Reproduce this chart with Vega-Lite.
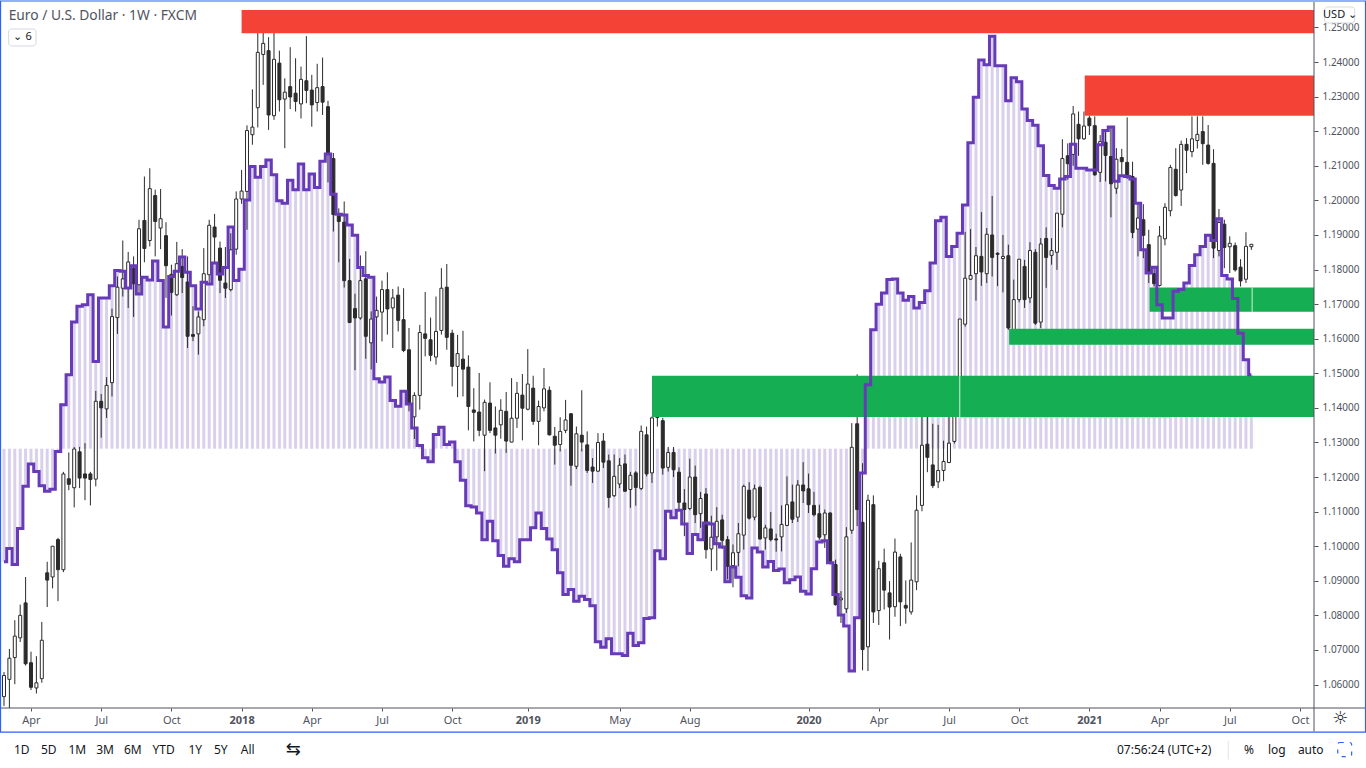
{"$schema":"https://vega.github.io/schema/vega-lite/v6.json","width":1313,"height":706,"autosize":"none","padding":{"left":1,"top":2,"right":52,"bottom":60},"background":"#ffffff","view":{"stroke":null},"config":{"font":"Noto Sans"},
"datasets":{"weeks":[
{"d":"2017-02-27","o":1.0565,"h":1.0636,"l":1.0538,"c":1.0626,"p":1.0955},
{"d":"2017-03-06","o":1.0615,"h":1.0703,"l":1.05,"c":1.0676,"p":1.0993},
{"d":"2017-03-13","o":1.0678,"h":1.0786,"l":1.0601,"c":1.074,"p":1.0947},
{"d":"2017-03-20","o":1.0735,"h":1.0831,"l":1.0723,"c":1.08,"p":1.1051},
{"d":"2017-03-27","o":1.0836,"h":1.0911,"l":1.0655,"c":1.066,"p":1.1173},
{"d":"2017-04-03","o":1.0663,"h":1.0695,"l":1.0584,"c":1.0592,"p":1.1238},
{"d":"2017-04-10","o":1.059,"h":1.0682,"l":1.0574,"c":1.0605,"p":1.1216},
{"d":"2017-04-17","o":1.0617,"h":1.0781,"l":1.0605,"c":1.0728,"p":1.1175},
{"d":"2017-04-24","o":1.0923,"h":1.0955,"l":1.0824,"c":1.0902,"p":1.1159},
{"d":"2017-05-01","o":1.0911,"h":1.1,"l":1.0878,"c":1.1,"p":1.1165},
{"d":"2017-05-08","o":1.1019,"h":1.1024,"l":1.0841,"c":1.0932,"p":1.1274},
{"d":"2017-05-15","o":1.0932,"h":1.1215,"l":1.0925,"c":1.1209,"p":1.1409},
{"d":"2017-05-22","o":1.1195,"h":1.1271,"l":1.1162,"c":1.1179,"p":1.1496},
{"d":"2017-05-29","o":1.1169,"h":1.1287,"l":1.1112,"c":1.1281,"p":1.1648},
{"d":"2017-06-05","o":1.1273,"h":1.1287,"l":1.1168,"c":1.1197,"p":1.1694},
{"d":"2017-06-12","o":1.1209,"h":1.1298,"l":1.1133,"c":1.1197,"p":1.1698},
{"d":"2017-06-19","o":1.1209,"h":1.1215,"l":1.1118,"c":1.1193,"p":1.1727},
{"d":"2017-06-26","o":1.1194,"h":1.1449,"l":1.1173,"c":1.1419,"p":1.1534},
{"d":"2017-07-03","o":1.1419,"h":1.144,"l":1.1314,"c":1.14,"p":1.1718},
{"d":"2017-07-10","o":1.1397,"h":1.1489,"l":1.1371,"c":1.1465,"p":1.1718},
{"d":"2017-07-17","o":1.1473,"h":1.1687,"l":1.1433,"c":1.1664,"p":1.1753},
{"d":"2017-07-24","o":1.1661,"h":1.178,"l":1.1614,"c":1.1749,"p":1.1797},
{"d":"2017-07-31","o":1.1746,"h":1.1884,"l":1.1722,"c":1.1773,"p":1.1795},
{"d":"2017-08-07","o":1.1747,"h":1.1851,"l":1.1689,"c":1.1822,"p":1.1747},
{"d":"2017-08-14","o":1.1804,"h":1.1838,"l":1.1663,"c":1.1759,"p":1.1811},
{"d":"2017-08-21","o":1.1756,"h":1.1944,"l":1.1727,"c":1.1918,"p":1.1729},
{"d":"2017-08-28","o":1.1942,"h":1.2069,"l":1.1821,"c":1.1861,"p":1.1778},
{"d":"2017-09-04","o":1.1884,"h":1.2093,"l":1.1867,"c":1.2034,"p":1.177},
{"d":"2017-09-11","o":1.2014,"h":1.2031,"l":1.1838,"c":1.1939,"p":1.1825},
{"d":"2017-09-18","o":1.192,"h":1.2033,"l":1.1859,"c":1.1947,"p":1.1768},
{"d":"2017-09-25","o":1.1898,"h":1.1937,"l":1.1718,"c":1.1811,"p":1.1634},
{"d":"2017-10-02","o":1.1786,"h":1.1814,"l":1.1667,"c":1.1734,"p":1.178},
{"d":"2017-10-09","o":1.1727,"h":1.188,"l":1.1724,"c":1.1817,"p":1.1795},
{"d":"2017-10-16","o":1.1809,"h":1.1859,"l":1.1732,"c":1.1777,"p":1.1836},
{"d":"2017-10-23","o":1.1764,"h":1.1838,"l":1.1573,"c":1.1607,"p":1.1792},
{"d":"2017-10-30","o":1.1612,"h":1.1694,"l":1.1593,"c":1.1607,"p":1.1753},
{"d":"2017-11-06","o":1.1614,"h":1.1679,"l":1.1554,"c":1.1663,"p":1.1686},
{"d":"2017-11-13","o":1.1655,"h":1.1862,"l":1.1636,"c":1.1788,"p":1.1763},
{"d":"2017-11-20","o":1.1785,"h":1.1944,"l":1.1761,"c":1.1928,"p":1.1758},
{"d":"2017-11-27","o":1.1923,"h":1.1961,"l":1.1819,"c":1.1894,"p":1.1819},
{"d":"2017-12-04","o":1.1862,"h":1.1881,"l":1.1732,"c":1.1769,"p":1.1787},
{"d":"2017-12-11","o":1.1761,"h":1.1865,"l":1.1718,"c":1.1746,"p":1.1806},
{"d":"2017-12-18","o":1.1742,"h":1.1905,"l":1.1737,"c":1.1857,"p":1.1923},
{"d":"2017-12-25","o":1.1859,"h":1.2026,"l":1.1843,"c":1.2004,"p":1.1768},
{"d":"2018-01-01","o":1.2004,"h":1.2088,"l":1.199,"c":1.2027,"p":1.1801},
{"d":"2018-01-08","o":1.2026,"h":1.2217,"l":1.1915,"c":1.2202,"p":1.2001},
{"d":"2018-01-15","o":1.219,"h":1.2321,"l":1.2161,"c":1.2212,"p":1.2098},
{"d":"2018-01-22","o":1.2268,"h":1.25,"l":1.2211,"c":1.2428,"p":1.2067},
{"d":"2018-01-29","o":1.2422,"h":1.25,"l":1.2334,"c":1.2454,"p":1.2098},
{"d":"2018-02-05","o":1.2433,"h":1.2472,"l":1.2204,"c":1.2247,"p":1.2117},
{"d":"2018-02-12","o":1.2245,"h":1.25,"l":1.2233,"c":1.2408,"p":1.2074},
{"d":"2018-02-19","o":1.2397,"h":1.2433,"l":1.2257,"c":1.2291,"p":1.1999},
{"d":"2018-02-26","o":1.2293,"h":1.2353,"l":1.2151,"c":1.2313,"p":1.1992},
{"d":"2018-03-05","o":1.2329,"h":1.2443,"l":1.2264,"c":1.2299,"p":1.2058},
{"d":"2018-03-12","o":1.231,"h":1.2411,"l":1.2257,"c":1.2286,"p":1.2031},
{"d":"2018-03-19","o":1.2279,"h":1.2387,"l":1.2237,"c":1.235,"p":1.2105},
{"d":"2018-03-26","o":1.2346,"h":1.2475,"l":1.2281,"c":1.2318,"p":1.2031},
{"d":"2018-04-02","o":1.2319,"h":1.2363,"l":1.2213,"c":1.2276,"p":1.2076},
{"d":"2018-04-09","o":1.2283,"h":1.2395,"l":1.2257,"c":1.2326,"p":1.2037},
{"d":"2018-04-16","o":1.2329,"h":1.2413,"l":1.2247,"c":1.2284,"p":1.2113},
{"d":"2018-04-23","o":1.2271,"h":1.2288,"l":1.2052,"c":1.2137,"p":1.2134},
{"d":"2018-04-30","o":1.2121,"h":1.2137,"l":1.191,"c":1.1959,"p":1.2018},
{"d":"2018-05-07","o":1.1955,"h":1.1977,"l":1.1821,"c":1.1939,"p":1.196},
{"d":"2018-05-14","o":1.1937,"h":1.1997,"l":1.1748,"c":1.1768,"p":1.1958},
{"d":"2018-05-21","o":1.1768,"h":1.1831,"l":1.1645,"c":1.1647,"p":1.1929},
{"d":"2018-05-28","o":1.1687,"h":1.173,"l":1.1509,"c":1.166,"p":1.1899},
{"d":"2018-06-04","o":1.166,"h":1.1841,"l":1.1655,"c":1.1768,"p":1.1806},
{"d":"2018-06-11","o":1.1773,"h":1.1853,"l":1.1542,"c":1.1607,"p":1.1783},
{"d":"2018-06-18","o":1.1588,"h":1.1679,"l":1.1511,"c":1.1657,"p":1.1778},
{"d":"2018-06-25","o":1.1663,"h":1.1722,"l":1.153,"c":1.1682,"p":1.1484},
{"d":"2018-07-02","o":1.1677,"h":1.1768,"l":1.1592,"c":1.1742,"p":1.1475},
{"d":"2018-07-09","o":1.1742,"h":1.1792,"l":1.1612,"c":1.1686,"p":1.1489},
{"d":"2018-07-16","o":1.1689,"h":1.1744,"l":1.1573,"c":1.1718,"p":1.1421},
{"d":"2018-07-23","o":1.1726,"h":1.1751,"l":1.1621,"c":1.1653,"p":1.1405},
{"d":"2018-07-30","o":1.1655,"h":1.1746,"l":1.1561,"c":1.1566,"p":1.1448},
{"d":"2018-08-06","o":1.1568,"h":1.1631,"l":1.139,"c":1.1414,"p":1.1411},
{"d":"2018-08-13","o":1.1374,"h":1.1445,"l":1.131,"c":1.1436,"p":1.1342},
{"d":"2018-08-20","o":1.1436,"h":1.164,"l":1.1395,"c":1.1618,"p":1.1291},
{"d":"2018-08-27","o":1.1614,"h":1.1735,"l":1.1549,"c":1.1601,"p":1.1256},
{"d":"2018-09-03","o":1.1597,"h":1.1661,"l":1.1535,"c":1.1552,"p":1.1244},
{"d":"2018-09-10","o":1.1547,"h":1.1722,"l":1.1525,"c":1.1621,"p":1.1323},
{"d":"2018-09-17","o":1.1624,"h":1.1804,"l":1.1612,"c":1.1746,"p":1.1344},
{"d":"2018-09-24","o":1.1749,"h":1.1816,"l":1.1568,"c":1.1604,"p":1.1294},
{"d":"2018-10-01","o":1.1616,"h":1.1626,"l":1.1462,"c":1.152,"p":1.1301},
{"d":"2018-10-08","o":1.152,"h":1.1611,"l":1.1431,"c":1.1557,"p":1.1244},
{"d":"2018-10-15","o":1.1541,"h":1.1623,"l":1.1433,"c":1.1512,"p":1.1191},
{"d":"2018-10-22","o":1.1518,"h":1.1552,"l":1.1335,"c":1.1404,"p":1.1117},
{"d":"2018-10-29","o":1.1394,"h":1.1457,"l":1.1303,"c":1.1387,"p":1.1113},
{"d":"2018-11-05","o":1.1388,"h":1.1501,"l":1.1318,"c":1.1335,"p":1.1096},
{"d":"2018-11-12","o":1.1321,"h":1.1424,"l":1.1217,"c":1.1416,"p":1.1019},
{"d":"2018-11-19","o":1.1414,"h":1.1474,"l":1.1327,"c":1.1335,"p":1.1072},
{"d":"2018-11-26","o":1.1342,"h":1.1404,"l":1.1268,"c":1.1321,"p":1.1016},
{"d":"2018-12-03","o":1.1351,"h":1.1425,"l":1.1311,"c":1.1393,"p":1.0973},
{"d":"2018-12-10","o":1.139,"h":1.1446,"l":1.127,"c":1.1304,"p":1.0942},
{"d":"2018-12-17","o":1.1301,"h":1.1486,"l":1.1301,"c":1.137,"p":1.0964},
{"d":"2018-12-24","o":1.137,"h":1.1475,"l":1.1342,"c":1.1442,"p":1.0955},
{"d":"2018-12-31","o":1.1437,"h":1.1498,"l":1.1306,"c":1.1399,"p":1.1019},
{"d":"2019-01-07","o":1.1396,"h":1.157,"l":1.1393,"c":1.1469,"p":1.1019},
{"d":"2019-01-14","o":1.1457,"h":1.1493,"l":1.1351,"c":1.1361,"p":1.1053},
{"d":"2019-01-21","o":1.1361,"h":1.1421,"l":1.1292,"c":1.1404,"p":1.1096},
{"d":"2019-01-28","o":1.14,"h":1.1515,"l":1.139,"c":1.1455,"p":1.1051},
{"d":"2019-02-04","o":1.1451,"h":1.1462,"l":1.132,"c":1.1322,"p":1.1021},
{"d":"2019-02-11","o":1.1318,"h":1.1345,"l":1.1236,"c":1.1292,"p":1.099},
{"d":"2019-02-18","o":1.1294,"h":1.1373,"l":1.1274,"c":1.1332,"p":1.0923},
{"d":"2019-02-25","o":1.1335,"h":1.1423,"l":1.1327,"c":1.1365,"p":1.086},
{"d":"2019-03-04","o":1.1383,"h":1.1385,"l":1.1175,"c":1.1234,"p":1.0875},
{"d":"2019-03-11","o":1.1231,"h":1.1346,"l":1.1223,"c":1.1325,"p":1.0841},
{"d":"2019-03-18","o":1.1321,"h":1.1451,"l":1.1274,"c":1.1301,"p":1.0855},
{"d":"2019-03-25","o":1.1293,"h":1.1332,"l":1.1212,"c":1.1219,"p":1.0846},
{"d":"2019-04-01","o":1.1229,"h":1.1255,"l":1.1183,"c":1.1217,"p":1.0828},
{"d":"2019-04-08","o":1.1217,"h":1.1327,"l":1.1215,"c":1.13,"p":1.0724},
{"d":"2019-04-15","o":1.1304,"h":1.1327,"l":1.1226,"c":1.1243,"p":1.0708},
{"d":"2019-04-22","o":1.1247,"h":1.1265,"l":1.1111,"c":1.1141,"p":1.0732},
{"d":"2019-04-29","o":1.1146,"h":1.1265,"l":1.1142,"c":1.1202,"p":1.0689},
{"d":"2019-05-06","o":1.118,"h":1.1255,"l":1.1168,"c":1.1234,"p":1.0689},
{"d":"2019-05-13","o":1.1238,"h":1.1265,"l":1.1157,"c":1.1159,"p":1.0684},
{"d":"2019-05-20","o":1.1164,"h":1.1215,"l":1.1111,"c":1.1205,"p":1.0748},
{"d":"2019-05-27","o":1.1212,"h":1.1217,"l":1.1117,"c":1.117,"p":1.0713},
{"d":"2019-06-03","o":1.1167,"h":1.1349,"l":1.1162,"c":1.1332,"p":1.0721},
{"d":"2019-06-10","o":1.1322,"h":1.1346,"l":1.1202,"c":1.1209,"p":1.0791},
{"d":"2019-06-17","o":1.1212,"h":1.1375,"l":1.1183,"c":1.1371,"p":1.0793},
{"d":"2019-06-24","o":1.1395,"h":1.1402,"l":1.1346,"c":1.1372,"p":1.0987},
{"d":"2019-07-01","o":1.1363,"h":1.1371,"l":1.1207,"c":1.1226,"p":1.0964},
{"d":"2019-07-08","o":1.1228,"h":1.1287,"l":1.1216,"c":1.1271,"p":1.1101},
{"d":"2019-07-15","o":1.1271,"h":1.1287,"l":1.12,"c":1.1221,"p":1.1082},
{"d":"2019-07-22","o":1.1214,"h":1.1228,"l":1.1106,"c":1.1127,"p":1.1104},
{"d":"2019-07-29","o":1.1125,"h":1.1165,"l":1.1029,"c":1.1106,"p":1.1064},
{"d":"2019-08-05","o":1.1109,"h":1.1253,"l":1.1104,"c":1.12,"p":1.0979},
{"d":"2019-08-12","o":1.12,"h":1.1233,"l":1.1067,"c":1.1091,"p":1.1034},
{"d":"2019-08-19","o":1.1094,"h":1.1157,"l":1.1053,"c":1.1138,"p":1.1019},
{"d":"2019-08-26","o":1.1151,"h":1.1168,"l":1.0964,"c":1.099,"p":1.1067},
{"d":"2019-09-02","o":1.0992,"h":1.1088,"l":1.0928,"c":1.1026,"p":1.1064},
{"d":"2019-09-09","o":1.1027,"h":1.1113,"l":1.093,"c":1.1072,"p":1.1007},
{"d":"2019-09-16","o":1.1076,"h":1.1091,"l":1.0992,"c":1.1017,"p":1.0998},
{"d":"2019-09-23","o":1.1019,"h":1.1029,"l":1.0904,"c":1.0942,"p":1.0897},
{"d":"2019-09-30","o":1.0944,"h":1.1005,"l":1.0881,"c":1.0981,"p":1.094},
{"d":"2019-10-07","o":1.0982,"h":1.1067,"l":1.0942,"c":1.1036,"p":1.091},
{"d":"2019-10-14","o":1.1032,"h":1.1178,"l":1.099,"c":1.1173,"p":1.0857},
{"d":"2019-10-21","o":1.1162,"h":1.1185,"l":1.1077,"c":1.1081,"p":1.085},
{"d":"2019-10-28","o":1.1084,"h":1.1178,"l":1.1075,"c":1.1166,"p":1.0995},
{"d":"2019-11-04","o":1.117,"h":1.1175,"l":1.1019,"c":1.1021,"p":1.0983},
{"d":"2019-11-11","o":1.1024,"h":1.1062,"l":1.099,"c":1.1053,"p":1.094},
{"d":"2019-11-18","o":1.105,"h":1.1099,"l":1.1014,"c":1.1019,"p":1.0956},
{"d":"2019-11-25","o":1.1021,"h":1.1036,"l":1.0984,"c":1.1018,"p":1.093},
{"d":"2019-12-02","o":1.1027,"h":1.1118,"l":1.0985,"c":1.1063,"p":1.0934},
{"d":"2019-12-09","o":1.106,"h":1.1202,"l":1.1058,"c":1.112,"p":1.0894},
{"d":"2019-12-16","o":1.1128,"h":1.1178,"l":1.1067,"c":1.1078,"p":1.0903},
{"d":"2019-12-23","o":1.1084,"h":1.1191,"l":1.107,"c":1.1177,"p":1.0911},
{"d":"2019-12-30","o":1.1177,"h":1.1243,"l":1.1125,"c":1.116,"p":1.087},
{"d":"2020-01-06","o":1.1166,"h":1.121,"l":1.1096,"c":1.112,"p":1.0862},
{"d":"2020-01-13","o":1.1118,"h":1.1157,"l":1.1086,"c":1.1091,"p":1.0935},
{"d":"2020-01-20","o":1.1094,"h":1.112,"l":1.1019,"c":1.1026,"p":1.1012},
{"d":"2020-01-27","o":1.1033,"h":1.1106,"l":1.0995,"c":1.1096,"p":1.1016},
{"d":"2020-02-03","o":1.1096,"h":1.1098,"l":1.0947,"c":1.0956,"p":1.0952},
{"d":"2020-02-10","o":1.0947,"h":1.0961,"l":1.0828,"c":1.0831,"p":1.086},
{"d":"2020-02-17","o":1.0845,"h":1.087,"l":1.0778,"c":1.085,"p":1.0801},
{"d":"2020-02-24","o":1.0819,"h":1.1055,"l":1.0807,"c":1.1027,"p":1.0769},
{"d":"2020-03-02","o":1.1046,"h":1.1356,"l":1.1036,"c":1.1286,"p":1.0639},
{"d":"2020-03-09","o":1.1354,"h":1.1497,"l":1.1058,"c":1.1106,"p":1.0793},
{"d":"2020-03-16","o":1.1069,"h":1.124,"l":1.0641,"c":1.0701,"p":1.1212},
{"d":"2020-03-23","o":1.0709,"h":1.1149,"l":1.0639,"c":1.1133,"p":1.1467},
{"d":"2020-03-30","o":1.112,"h":1.1147,"l":1.0778,"c":1.081,"p":1.1626},
{"d":"2020-04-06","o":1.0814,"h":1.0958,"l":1.0772,"c":1.0935,"p":1.17},
{"d":"2020-04-13","o":1.0952,"h":1.0993,"l":1.0817,"c":1.0873,"p":1.1732},
{"d":"2020-04-20","o":1.0865,"h":1.0899,"l":1.073,"c":1.0824,"p":1.1771},
{"d":"2020-04-27","o":1.0825,"h":1.1022,"l":1.0796,"c":1.0983,"p":1.1773},
{"d":"2020-05-04","o":1.0969,"h":1.0978,"l":1.0769,"c":1.0839,"p":1.1732},
{"d":"2020-05-11","o":1.0829,"h":1.0901,"l":1.0776,"c":1.0821,"p":1.1711},
{"d":"2020-05-18","o":1.081,"h":1.1011,"l":1.0802,"c":1.0902,"p":1.1722},
{"d":"2020-05-25","o":1.0897,"h":1.1147,"l":1.0873,"c":1.1104,"p":1.1689},
{"d":"2020-06-01","o":1.1118,"h":1.138,"l":1.1101,"c":1.1292,"p":1.1705},
{"d":"2020-06-08","o":1.1295,"h":1.14,"l":1.1214,"c":1.1257,"p":1.1739},
{"d":"2020-06-15","o":1.1235,"h":1.1354,"l":1.1168,"c":1.1175,"p":1.1819},
{"d":"2020-06-22","o":1.1186,"h":1.1351,"l":1.1168,"c":1.1219,"p":1.1941},
{"d":"2020-06-29","o":1.1219,"h":1.1305,"l":1.1188,"c":1.1245,"p":1.1951},
{"d":"2020-07-06","o":1.1242,"h":1.1395,"l":1.124,"c":1.1298,"p":1.1838},
{"d":"2020-07-13","o":1.1303,"h":1.144,"l":1.1297,"c":1.14,"p":1.1867},
{"d":"2020-07-20","o":1.1395,"h":1.1657,"l":1.139,"c":1.1657,"p":1.1905},
{"d":"2020-07-27","o":1.1642,"h":1.1909,"l":1.1635,"c":1.1775,"p":1.1987},
{"d":"2020-08-03","o":1.1772,"h":1.1917,"l":1.177,"c":1.1783,"p":1.2167},
{"d":"2020-08-10","o":1.1788,"h":1.1865,"l":1.171,"c":1.184,"p":1.2298},
{"d":"2020-08-17","o":1.1838,"h":1.1966,"l":1.1753,"c":1.1793,"p":1.2406},
{"d":"2020-08-24","o":1.1788,"h":1.192,"l":1.1761,"c":1.1902,"p":1.2392},
{"d":"2020-08-31","o":1.19,"h":1.2013,"l":1.178,"c":1.1835,"p":1.2475},
{"d":"2020-09-07","o":1.1847,"h":1.185,"l":1.1752,"c":1.1844,"p":1.2389},
{"d":"2020-09-14","o":1.1832,"h":1.19,"l":1.1734,"c":1.1838,"p":1.2389},
{"d":"2020-09-21","o":1.184,"h":1.1872,"l":1.1626,"c":1.1631,"p":1.2288},
{"d":"2020-09-28","o":1.162,"h":1.1771,"l":1.161,"c":1.1713,"p":1.2355},
{"d":"2020-10-05","o":1.1713,"h":1.183,"l":1.1705,"c":1.183,"p":1.2343},
{"d":"2020-10-12","o":1.1809,"h":1.1828,"l":1.1689,"c":1.1713,"p":1.2264},
{"d":"2020-10-19","o":1.1718,"h":1.1879,"l":1.1703,"c":1.1855,"p":1.2231},
{"d":"2020-10-26","o":1.185,"h":1.1859,"l":1.164,"c":1.1645,"p":1.2217},
{"d":"2020-11-02","o":1.1648,"h":1.1891,"l":1.1631,"c":1.1874,"p":1.2158},
{"d":"2020-11-09","o":1.189,"h":1.1922,"l":1.1747,"c":1.1835,"p":1.2072},
{"d":"2020-11-16","o":1.1841,"h":1.1891,"l":1.1814,"c":1.1855,"p":1.2043},
{"d":"2020-11-23","o":1.185,"h":1.1963,"l":1.1799,"c":1.1963,"p":1.2035},
{"d":"2020-11-30","o":1.196,"h":1.2177,"l":1.1922,"c":1.2121,"p":1.2062},
{"d":"2020-12-07","o":1.2129,"h":1.2165,"l":1.206,"c":1.2106,"p":1.2069},
{"d":"2020-12-14","o":1.2133,"h":1.2273,"l":1.21,"c":1.225,"p":1.2162},
{"d":"2020-12-21","o":1.222,"h":1.2257,"l":1.2129,"c":1.2178,"p":1.2093},
{"d":"2020-12-28","o":1.2178,"h":1.2257,"l":1.2175,"c":1.2215,"p":1.2093},
{"d":"2021-01-04","o":1.2238,"h":1.2245,"l":1.2189,"c":1.2216,"p":1.2088},
{"d":"2021-01-11","o":1.2216,"h":1.2243,"l":1.2071,"c":1.2074,"p":1.2088},
{"d":"2021-01-18","o":1.2081,"h":1.2189,"l":1.2053,"c":1.217,"p":1.2161},
{"d":"2021-01-25","o":1.2168,"h":1.2199,"l":1.2055,"c":1.213,"p":1.2202},
{"d":"2021-02-01","o":1.2127,"h":1.2213,"l":1.1951,"c":1.2048,"p":1.2212},
{"d":"2021-02-08","o":1.2035,"h":1.2151,"l":1.2019,"c":1.2119,"p":1.2055},
{"d":"2021-02-15","o":1.2124,"h":1.2149,"l":1.2074,"c":1.2112,"p":1.2071},
{"d":"2021-02-22","o":1.211,"h":1.224,"l":1.2062,"c":1.2069,"p":1.2069},
{"d":"2021-03-01","o":1.2069,"h":1.2112,"l":1.1891,"c":1.1907,"p":1.2062},
{"d":"2021-03-08","o":1.1917,"h":1.1992,"l":1.1838,"c":1.1949,"p":1.1992},
{"d":"2021-03-15","o":1.1944,"h":1.1989,"l":1.1833,"c":1.1899,"p":1.1857},
{"d":"2021-03-22","o":1.1872,"h":1.1915,"l":1.1761,"c":1.179,"p":1.179},
{"d":"2021-03-29","o":1.1788,"h":1.1809,"l":1.1751,"c":1.1759,"p":1.1807},
{"d":"2021-04-05","o":1.1754,"h":1.1926,"l":1.1751,"c":1.1897,"p":1.1698},
{"d":"2021-04-12","o":1.1889,"h":1.1992,"l":1.187,"c":1.198,"p":1.166},
{"d":"2021-04-19","o":1.197,"h":1.2103,"l":1.1954,"c":1.2095,"p":1.166},
{"d":"2021-04-26","o":1.209,"h":1.2151,"l":1.2011,"c":1.2014,"p":1.1737},
{"d":"2021-05-03","o":1.203,"h":1.2173,"l":1.1984,"c":1.2162,"p":1.1742},
{"d":"2021-05-10","o":1.2162,"h":1.218,"l":1.2079,"c":1.2145,"p":1.1761},
{"d":"2021-05-17","o":1.2141,"h":1.2243,"l":1.2125,"c":1.2178,"p":1.1812},
{"d":"2021-05-24","o":1.2173,"h":1.2243,"l":1.215,"c":1.2191,"p":1.1843},
{"d":"2021-05-31","o":1.2199,"h":1.2243,"l":1.2103,"c":1.2164,"p":1.1867},
{"d":"2021-06-07","o":1.216,"h":1.2218,"l":1.2103,"c":1.2107,"p":1.1899},
{"d":"2021-06-14","o":1.2107,"h":1.2148,"l":1.1833,"c":1.1862,"p":1.1884},
{"d":"2021-06-21","o":1.1855,"h":1.1975,"l":1.1838,"c":1.1936,"p":1.1947},
{"d":"2021-06-28","o":1.1931,"h":1.1944,"l":1.1804,"c":1.1864,"p":1.1783},
{"d":"2021-07-05","o":1.1866,"h":1.1896,"l":1.179,"c":1.1876,"p":1.1773},
{"d":"2021-07-12","o":1.1869,"h":1.1878,"l":1.1794,"c":1.1799,"p":1.1716},
{"d":"2021-07-19","o":1.1807,"h":1.183,"l":1.1751,"c":1.1767,"p":1.1616},
{"d":"2021-07-26","o":1.1772,"h":1.1908,"l":1.1761,"c":1.1867,"p":1.1539},
{"d":"2021-08-02","o":1.1866,"h":1.1873,"l":1.1857,"c":1.1873,"p":1.1496}
],
"zones":[
{"d":"2018-01-01","d2":"2021-10-22T05:00:00Z","y":1.25506,"y2":1.24833,"kind":"supply"},
{"d":"2020-12-29","d2":"2021-10-22T05:00:00Z","y":1.23613,"y2":1.22451,"kind":"supply"},
{"d":"2019-06-17","d2":"2021-10-22T05:00:00Z","y":1.14929,"y2":1.13735,"kind":"demand"},
{"d":"2020-09-22","d2":"2021-10-22T05:00:00Z","y":1.16287,"y2":1.15825,"kind":"demand"},
{"d":"2021-03-23","d2":"2021-10-22T05:00:00Z","y":1.17481,"y2":1.16778,"kind":"demand"}
],
"edgesV":[
{"d":"2021-08-03","y":1.17481,"y2":1.16778},
{"d":"2020-07-20","y":1.14957,"y2":1.13715}
],
"edgesH":[{"d":"2020-07-20","d2":"2021-04-19","y":1.13715}],
"frame":[{"d":"2017-02-22T12:00:00Z","d2":"2021-12-28","y":1.25766,"y2":1.04626}],
"boxes":[
{"d":"2017-03-05","d2":"2017-04-09T12:00:00Z","y":1.24957,"y2":1.24466},
{"d":"2021-11-05","d2":"2021-12-14","y":1.25593,"y2":1.2513}
],
"expand":[{"d":"2021-11-22","d2":"2021-12-10","y":1.04323,"y2":1.03917}],
"axisV":[{"d":"2021-10-22T05:00:00Z","y":1.25737,"y2":1.04646}],
"axisH":[{"d":"2017-02-23T02:40:00Z","d2":"2021-12-28","y":1.05321}],
"sep":[{"d":"2021-07-03","y":1.0438,"y2":1.03831}],
"legendText":[{"d":"2017-03-05","y":1.25333,"t":"Euro / U.S. Dollar · 1W · FXCM"}],
"smallText":[
{"d":"2017-03-16","y":1.24711,"t":"⌄"},
{"d":"2017-03-31","y":1.24711,"t":"6"},
{"d":"2021-11-25","y":1.25362,"t":"USD ⌄"}
],
"toolbar":[
{"d":"2017-03-22","y":1.0412,"t":"1D"},
{"d":"2017-04-26","y":1.0412,"t":"5D"},
{"d":"2017-06-02","y":1.0412,"t":"1M"},
{"d":"2017-07-08","y":1.0412,"t":"3M"},
{"d":"2017-08-13","y":1.0412,"t":"6M"},
{"d":"2017-09-22","y":1.0412,"t":"YTD"},
{"d":"2017-11-02","y":1.0412,"t":"1Y"},
{"d":"2017-12-05","y":1.0412,"t":"5Y"},
{"d":"2018-01-09","y":1.0412,"t":"All"},
{"d":"2021-04-11","y":1.0412,"t":"07:56:24 (UTC+2)"},
{"d":"2021-07-30","y":1.0412,"t":"%"},
{"d":"2021-09-04","y":1.0412,"t":"log"},
{"d":"2021-10-18","y":1.0412,"t":"auto"}
],
"gear":[{"d":"2021-11-25","y":1.05016,"t":"☼"},{"d":"2018-03-09","y":1.0412,"t":"⇆"}]
},
"layer":[
{"data":{"name":"weeks"},"mark":{"type":"bar","size":3,"color":"#d9d0ec"},
"encoding":{
"x":{"field":"d","type":"temporal","scale":{"type":"utc","padding":0,"domain":[{"year":2017,"month":"feb","date":23,"hours":2,"minutes":40,"utc":true},{"year":2021,"month":"oct","date":22,"hours":5,"utc":true}]},
"axis":{"orient":"bottom","title":null,"grid":false,"domain":false,"ticks":true,"tickSize":3,"tickColor":"#50535e","labelColor":"#50535e","labelFontSize":11,"labelPadding":3,"labelFont":"Noto Sans","labelFlush":false,"labelOverlap":false,"tickCount":60,
"labelFontWeight":{"condition":{"test":"utcmonth(datum.value)==0","value":"bold"},"value":"normal"},
"values":[{"year":2017,"month":"apr","date":3,"utc":true},{"year":2017,"month":"jul","date":3,"utc":true},{"year":2017,"month":"oct","date":2,"utc":true},{"year":2018,"month":"jan","date":1,"utc":true},{"year":2018,"month":"apr","date":2,"utc":true},{"year":2018,"month":"jul","date":2,"utc":true},{"year":2018,"month":"oct","date":1,"utc":true},{"year":2019,"month":"jan","date":7,"utc":true},{"year":2019,"month":"may","date":6,"utc":true},{"year":2019,"month":"aug","date":5,"utc":true},{"year":2020,"month":"jan","date":6,"utc":true},{"year":2020,"month":"apr","date":6,"utc":true},{"year":2020,"month":"jul","date":6,"utc":true},{"year":2020,"month":"oct","date":5,"utc":true},{"year":2021,"month":"jan","date":4,"utc":true},{"year":2021,"month":"apr","date":5,"utc":true},{"year":2021,"month":"jul","date":5,"utc":true},{"year":2021,"month":"oct","date":4,"utc":true}],
"labelExpr":"utcmonth(datum.value)==0 ? utcFormat(datum.value,'%Y') : utcFormat(datum.value,'%b')"}},
"y":{"field":"p","type":"quantitative","scale":{"domain":[1.05321,1.25737],"nice":false,"zero":false},
"axis":{"orient":"right","title":null,"grid":false,"domain":false,"tickSize":4,"tickColor":"#50535e","labelColor":"#50535e","labelFontSize":10,"labelPadding":4,"labelFont":"Noto Sans","labelOverlap":false,"labelFlush":false,"tickCount":60,"format":".5f","values":[1.06,1.07,1.08,1.09,1.10,1.11,1.12,1.13,1.14,1.15,1.16,1.17,1.18,1.19,1.20,1.21,1.22,1.23,1.24,1.25]}},
"y2":{"datum":1.1282}}},
{"data":{"name":"weeks"},"mark":{"type":"rule","color":"#2b2b2b","strokeWidth":1,"clip":true},
"encoding":{"x":{"field":"d","type":"temporal"},"y":{"field":"l","type":"quantitative"},"y2":{"field":"h"}}},
{"data":{"name":"weeks"},"mark":{"type":"bar","size":3,"stroke":"#2b2b2b","strokeWidth":1,"clip":true},
"encoding":{"x":{"field":"d","type":"temporal"},"y":{"field":"o","type":"quantitative"},"y2":{"field":"c"},
"fill":{"condition":{"test":"datum.c>=datum.o","value":"#ffffff"},"value":"#2b2b2b"}}},
{"data":{"name":"zones"},"mark":{"type":"rect","strokeWidth":0},
"encoding":{"x":{"field":"d","type":"temporal"},"x2":{"field":"d2"},"y":{"field":"y","type":"quantitative"},"y2":{"field":"y2"},
"color":{"field":"kind","type":"nominal","legend":null,"scale":{"domain":["supply","demand"],"range":["#f44336","#16ae52"]}}}},
{"data":{"name":"edgesV"},"mark":{"type":"rule","color":"#ffffff","strokeWidth":1,"opacity":0.8},
"encoding":{"x":{"field":"d","type":"temporal"},"y":{"field":"y","type":"quantitative"},"y2":{"field":"y2"}}},
{"data":{"name":"edgesH"},"mark":{"type":"rule","color":"#a7e0bd","strokeWidth":1},
"encoding":{"x":{"field":"d","type":"temporal"},"x2":{"field":"d2"},"y":{"field":"y","type":"quantitative"}}},
{"data":{"name":"weeks"},"mark":{"type":"line","interpolate":"step","color":"#673ab7","strokeWidth":3,"clip":true},
"encoding":{"x":{"field":"d","type":"temporal"},"y":{"field":"p","type":"quantitative"}}},
{"data":{"name":"axisV"},"mark":{"type":"rule","color":"#50535e","strokeWidth":1},
"encoding":{"x":{"field":"d","type":"temporal"},"y":{"field":"y","type":"quantitative"},"y2":{"field":"y2"}}},
{"data":{"name":"axisH"},"mark":{"type":"rule","color":"#50535e","strokeWidth":1},
"encoding":{"x":{"field":"d","type":"temporal"},"x2":{"field":"d2"},"y":{"field":"y","type":"quantitative"}}},
{"data":{"name":"frame"},"mark":{"type":"rect","fill":"transparent","stroke":"#2962ff","strokeWidth":1.2},
"encoding":{"x":{"field":"d","type":"temporal"},"x2":{"field":"d2"},"y":{"field":"y","type":"quantitative"},"y2":{"field":"y2"}}},
{"data":{"name":"boxes"},"mark":{"type":"rect","fill":"#ffffff","stroke":"#d6d8e0","strokeWidth":1,"cornerRadius":3},
"encoding":{"x":{"field":"d","type":"temporal"},"x2":{"field":"d2"},"y":{"field":"y","type":"quantitative"},"y2":{"field":"y2"}}},
{"data":{"name":"expand"},"mark":{"type":"rect","fill":"transparent","stroke":"#2962ff","strokeWidth":1.2,"strokeDash":[4,6],"cornerRadius":2},
"encoding":{"x":{"field":"d","type":"temporal"},"x2":{"field":"d2"},"y":{"field":"y","type":"quantitative"},"y2":{"field":"y2"}}},
{"data":{"name":"sep"},"mark":{"type":"rule","color":"#e0e3eb","strokeWidth":1},
"encoding":{"x":{"field":"d","type":"temporal"},"y":{"field":"y","type":"quantitative"},"y2":{"field":"y2"}}},
{"data":{"name":"legendText"},"mark":{"type":"text","align":"left","baseline":"middle","fontSize":13.8,"color":"#50535e","font":"Noto Sans"},
"encoding":{"x":{"field":"d","type":"temporal"},"y":{"field":"y","type":"quantitative"},"text":{"field":"t"}}},
{"data":{"name":"smallText"},"mark":{"type":"text","align":"center","baseline":"middle","fontSize":11,"color":"#131722","font":"Noto Sans"},
"encoding":{"x":{"field":"d","type":"temporal"},"y":{"field":"y","type":"quantitative"},"text":{"field":"t"}}},
{"data":{"name":"toolbar"},"mark":{"type":"text","align":"center","baseline":"middle","fontSize":12,"color":"#131722","font":"Noto Sans"},
"encoding":{"x":{"field":"d","type":"temporal"},"y":{"field":"y","type":"quantitative"},"text":{"field":"t"}}},
{"data":{"name":"gear"},"mark":{"type":"text","align":"center","baseline":"middle","fontSize":18,"color":"#131722","font":"DejaVu Sans"},
"encoding":{"x":{"field":"d","type":"temporal"},"y":{"field":"y","type":"quantitative"},"text":{"field":"t"}}}
]}
